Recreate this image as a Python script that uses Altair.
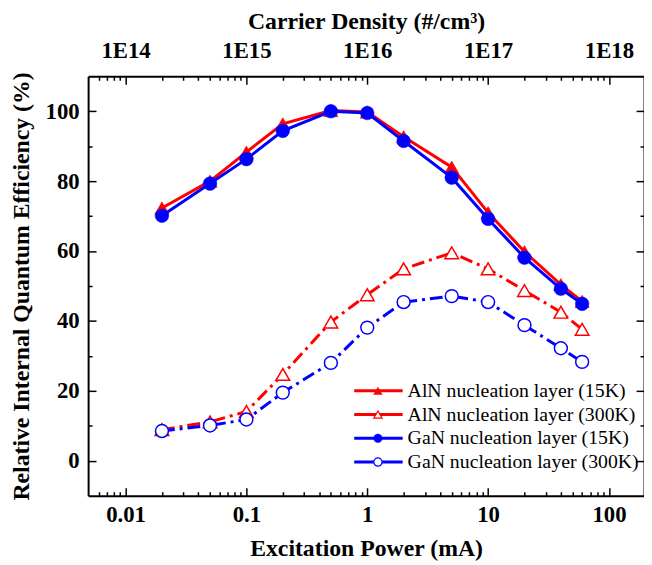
import altair as alt
import pandas as pd

# ---- data ----
power = [0.02, 0.05, 0.1, 0.2, 0.5, 1, 2, 5, 10, 20, 40, 60]
aln_15k = [72.3, 80.0, 88.3, 96.4, 100.2, 99.8, 92.7, 84.0, 71.0, 59.8, 50.4, 45.6]
aln_300k = [8.9, 11.1, 14.1, 24.7, 39.7, 47.5, 54.9, 59.5, 54.9, 48.7, 42.5, 37.6]
gan_15k = [70.1, 79.3, 86.3, 94.4, 100.0, 99.5, 91.5, 81.0, 69.2, 58.1, 49.2, 44.9]
gan_300k = [8.5, 10.1, 11.8, 19.5, 28.0, 38.1, 45.4, 47.1, 45.4, 38.8, 32.2, 28.3]
series_names = [
    "AlN nucleation layer (15K)",
    "AlN nucleation layer (300K)",
    "GaN nucleation layer (15K)",
    "GaN nucleation layer (300K)",
]
x_major = [0.01, 0.1, 1, 10, 100]
x_minor = [0.006, 0.007, 0.008, 0.009,
           0.02, 0.03, 0.04, 0.05, 0.06, 0.07, 0.08, 0.09,
           0.2, 0.3, 0.4, 0.5, 0.6, 0.7, 0.8, 0.9,
           2, 3, 4, 5, 6, 7, 8, 9,
           20, 30, 40, 50, 60, 70, 80, 90]
y_major = [0, 20, 40, 60, 80, 100]
y_minor = [10, 30, 50, 70, 90]

FONT = "Liberation Serif, Times New Roman, Times, serif"
RED = "#ff0000"
BLUE = "#0000ff"

all_values = [aln_15k, aln_300k, gan_15k, gan_300k]
frames = []
for name, vals in zip(series_names, all_values):
    frames.append(pd.DataFrame({"power": power, "eff": vals, "series": name}))
df = pd.concat(frames, ignore_index=True)

xs = alt.Scale(type="log", domain=[0.0049, 195], nice=False)
ys = alt.Scale(domain=[-10, 110], nice=False, zero=False)

W, H = 562, 424


def axis_layer(xaxis, yaxis):
    return alt.Chart(df).mark_point(opacity=0).encode(
        x=alt.X("power:Q", scale=xs, axis=xaxis),
        y=alt.Y("eff:Q", scale=ys, axis=yaxis),
    )


common = dict(grid=False, labelFont=FONT, labelFontWeight="bold", labelFontSize=23,
              labelColor="black", titleFont=FONT, titleFontWeight="bold", titleFontSize=24,
              titleColor="black", tickColor="black", tickWidth=1.5)

bottom_major = alt.Axis(orient="bottom", values=x_major, format="~g", tickSize={"expr": "-8"},
                        labelPadding=16, domain=True, domainWidth=2, domainColor="black",
                        title="Excitation Power (mA)", titlePadding=10, **common)
left_major = alt.Axis(orient="left", values=y_major, tickSize={"expr": "-8"}, labelPadding=17,
                      domain=True, domainWidth=2, domainColor="black",
                      title="Relative Internal Quantum Efficiency (%)", titlePadding=12, **common)
bottom_minor = alt.Axis(orient="bottom", values=x_minor, tickSize={"expr": "-4"}, labels=False,
                        domain=False, title=None, grid=False, tickColor="black", tickWidth=1.5)
left_minor = alt.Axis(orient="left", values=y_minor, tickSize={"expr": "-4"}, labels=False,
                      domain=False, title=None, grid=False, tickColor="black", tickWidth=1.5)
top_major = alt.Axis(orient="top", values=x_major,
                     labelExpr="'1E' + format(round(log(datum.value) / LN10) + 16, 'd')",
                     tickSize={"expr": "-8"}, labelPadding=22, domain=True, domainWidth=2,
                     domainColor="black", title="Carrier Density (#/cm³)", titlePadding=6, **common)
right_major = alt.Axis(orient="right", values=y_major, tickSize={"expr": "-8"}, labels=False,
                       domain=True, domainWidth=2, domainColor="black", title=None, grid=False,
                       tickColor="black", tickWidth=1.5)
top_minor = alt.Axis(orient="top", values=x_minor, tickSize={"expr": "-4"}, labels=False,
                     domain=False, title=None, grid=False, tickColor="black", tickWidth=1.5)
right_minor = alt.Axis(orient="right", values=y_minor, tickSize={"expr": "-4"}, labels=False,
                       domain=False, title=None, grid=False, tickColor="black", tickWidth=1.5)

layers = [
    axis_layer(bottom_major, left_major),
    axis_layer(bottom_minor, left_minor),
    axis_layer(top_major, right_major),
    axis_layer(top_minor, right_minor),
]

styles = [
    dict(color=RED, dash=None, shape="triangle-up", filled=True, size=210),
    dict(color=RED, dash=[13, 5, 3, 5], shape="triangle-up", filled=False, size=190),
    dict(color=BLUE, dash=None, shape="circle", filled=True, size=190),
    dict(color=BLUE, dash=[13, 5, 3, 5], shape="circle", filled=False, size=170),
]

for name, st in zip(series_names, styles):
    sub = alt.Chart(df).transform_filter(alt.datum.series == name)
    line_kw = dict(color=st["color"], strokeWidth=3, clip=True)
    if st["dash"]:
        line_kw["strokeDash"] = st["dash"]
    line = sub.mark_line(**line_kw).encode(
        x=alt.X("power:Q", scale=xs, axis=None),
        y=alt.Y("eff:Q", scale=ys, axis=None),
    )
    if st["filled"]:
        pt = sub.mark_point(shape=st["shape"], filled=True, fill=st["color"], stroke=st["color"],
                            strokeWidth=0.5, opacity=1, size=st["size"])
    else:
        pt = sub.mark_point(shape=st["shape"], filled=True, fill="white", stroke=st["color"],
                            strokeWidth=1.5, opacity=1, fillOpacity=1, size=st["size"])
    pt = pt.encode(
        x=alt.X("power:Q", scale=xs, axis=None),
        y=alt.Y("eff:Q", scale=ys, axis=None),
    )
    layers += [line, pt]

# ---- legend (drawn manually, pixel positions inside the plot area) ----
one = pd.DataFrame({"a": [0]})
leg_x0, leg_x1, leg_xm, leg_tx = 269, 318, 293, 323
leg_rows = [318, 342, 366, 390]
for name, st, yy in zip(series_names, styles, leg_rows):
    rule_kw = dict(color=st["color"], strokeWidth=3)
    layers.append(alt.Chart(one).mark_rule(**rule_kw).encode(
        x=alt.value(leg_x0), x2=alt.value(leg_x1), y=alt.value(yy)))
    if st["filled"]:
        p = alt.Chart(one).mark_point(shape=st["shape"], filled=True, fill=st["color"],
                                      stroke=st["color"], strokeWidth=0.5, opacity=1, size=75)
    else:
        p = alt.Chart(one).mark_point(shape=st["shape"], filled=True, fill="white",
                                      stroke=st["color"], strokeWidth=1.2, opacity=1, size=70)
    layers.append(p.encode(x=alt.value(leg_xm), y=alt.value(yy)))
    layers.append(alt.Chart(one).mark_text(align="left", baseline="middle", font=FONT,
                                           fontSize=20, color="black").encode(
        x=alt.value(leg_tx), y=alt.value(yy), text=alt.value(name)))

chart = alt.layer(*layers).resolve_axis(x="independent", y="independent").properties(
    width=W, height=H,
    padding={"left": 81, "top": 66, "right": 0, "bottom": 67},
    autosize=alt.AutoSizeParams(type="none"),
).configure_view(stroke=None)

chart.save("out.html", embed_options={"renderer": "svg", "actions": False})
